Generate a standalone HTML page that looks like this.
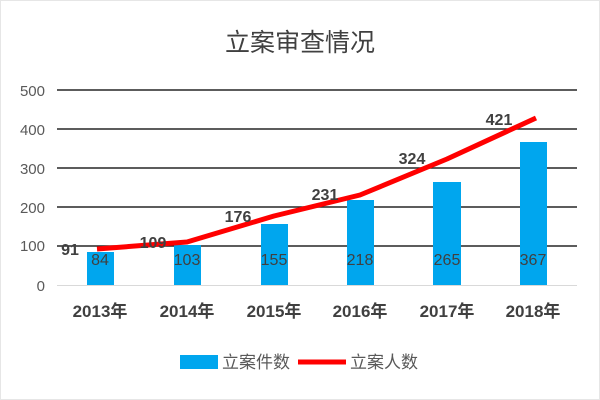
<!DOCTYPE html>
<html><head><meta charset="utf-8"><style>
html,body{margin:0;padding:0;background:#fff;}
svg{display:block;}
</style></head><body>
<svg width="600" height="400" xmlns="http://www.w3.org/2000/svg" font-family="'Liberation Sans','Noto Sans CJK SC',sans-serif">
<rect x="0.5" y="0.5" width="599" height="399" fill="#fff" stroke="#e6e6e6"/>
<text x="300" y="51" text-anchor="middle" font-size="25" fill="#404040">立案审查情况</text>
<g stroke="#262626" stroke-width="1.5">
<line x1="57" y1="90" x2="577" y2="90"/>
<line x1="57" y1="129" x2="577" y2="129"/>
<line x1="57" y1="168" x2="577" y2="168"/>
<line x1="57" y1="207" x2="577" y2="207"/>
<line x1="57" y1="246" x2="577" y2="246"/>
</g>
<line x1="57" y1="285.5" x2="577" y2="285.5" stroke="#d9d9d9" stroke-width="1"/>
<g font-size="15" fill="#595959" text-anchor="end">
<text x="45" y="96">500</text><text x="45" y="135">400</text><text x="45" y="174">300</text>
<text x="45" y="213">200</text><text x="45" y="251">100</text><text x="45" y="291">0</text>
</g>
<g fill="#00a6ee">
<rect x="87" y="252" width="27" height="33"/>
<rect x="174" y="245" width="27" height="40"/>
<rect x="261" y="224" width="27" height="61"/>
<rect x="347" y="200" width="27" height="85"/>
<rect x="433" y="182" width="28" height="103"/>
<rect x="520" y="142" width="27" height="143"/>
</g>
<polyline points="97,249 187,242 274,216 360,195 447,159 536,118" fill="none" stroke="#ff0000" stroke-width="5" stroke-linejoin="round"/>
<g font-size="16" fill="#404040" text-anchor="middle">
<text x="100" y="265">84</text><text x="187" y="265">103</text><text x="274" y="265">155</text>
<text x="360" y="265">218</text><text x="447" y="265">265</text><text x="533" y="265">367</text>
</g>
<g font-size="16" font-weight="bold" fill="#404040" text-anchor="middle">
<text x="70" y="255">91</text><text x="153" y="248">109</text><text x="238" y="222">176</text>
<text x="325" y="200">231</text><text x="412" y="164">324</text><text x="499" y="125">421</text>
</g>
<g font-size="17" font-weight="bold" fill="#404040" text-anchor="middle">
<text x="100" y="317">2013年</text><text x="187" y="317">2014年</text><text x="274" y="317">2015年</text>
<text x="360" y="317">2016年</text><text x="447" y="317">2017年</text><text x="533" y="317">2018年</text>
</g>
<rect x="180" y="355" width="38" height="14" fill="#00a6ee"/>
<text x="222" y="368" font-size="17" fill="#595959">立案件数</text>
<line x1="298" y1="362" x2="346" y2="362" stroke="#ff0000" stroke-width="5"/>
<text x="350" y="368" font-size="17" fill="#595959">立案人数</text>
</svg>
</body></html>
